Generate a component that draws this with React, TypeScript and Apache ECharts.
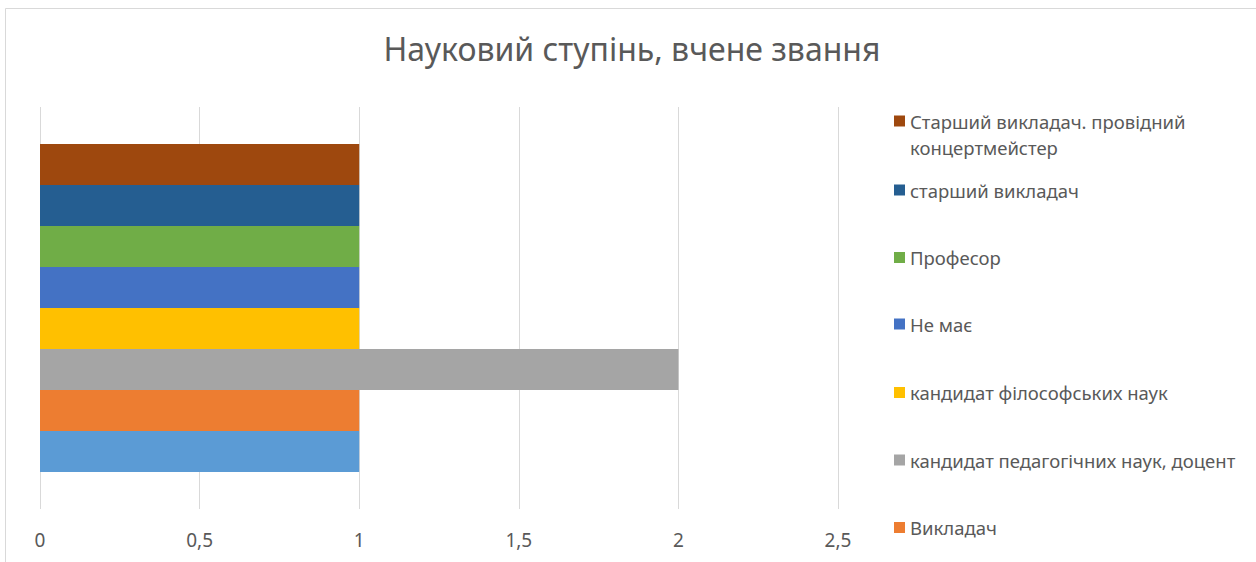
import React, { useEffect, useRef } from "react";
import * as echarts from "echarts";

const categories = [""];
// series in ECharts order: first = top bar
const seriesNames = [
  "Старший викладач. провідний концертмейстер",
  "старший викладач",
  "Професор",
  "Не має",
  "кандидат філософських наук",
  "кандидат педагогічних наук, доцент",
  "Викладач",
  "Інше",
];
const seriesValues = [1, 1, 1, 1, 1, 2, 1, 1];
const seriesColors = [
  "#9E480E",
  "#255E91",
  "#70AD47",
  "#4472C4",
  "#FFC000",
  "#A5A5A5",
  "#ED7D31",
  "#5B9BD5",
];
const xTicks = { min: 0, max: 2.5, interval: 0.5 };
const titleText = "Науковий ступінь, вчене звання";

// legend items shown (top to bottom) and their icon centres
const legendNames = seriesNames.slice(0, 7);
const legendCenters = [121, 190, 257.5, 324, 392.5, 460, 527.5];
const firstLegendLines = ["Старший викладач. провідний", "концертмейстер"];

const FONT = "'Noto Sans', sans-serif";
const TEXT = "#595959";
const LEGEND_FS = 18.5;

export default function App() {
  const ref = useRef<HTMLDivElement>(null);
  useEffect(() => {
    document.body.style.margin = "0";
    if (!ref.current) return;
    const chart = echarts.init(ref.current, undefined, { renderer: "svg" });
    const legends = legendNames.map((name, i) => ({
      orient: "vertical",
      left: 894,
      top: legendCenters[i] - 11,
      padding: 0,
      itemWidth: 11,
      itemHeight: 11,
      itemGap: 0,
      icon: "rect",
      data: [name],
      selectedMode: false,
      formatter: i === 0 ? () => firstLegendLines[0] : undefined,
      textStyle: {
        color: TEXT,
        fontFamily: FONT,
        fontSize: LEGEND_FS,
        lineHeight: 22,
      },
    }));
    chart.setOption({
      animation: false,
      textStyle: { fontFamily: FONT },
      title: {
        text: titleText,
        left: 632,
        textAlign: "center",
        top: 32,
        padding: 0,
        textStyle: {
          color: TEXT,
          fontFamily: FONT,
          fontSize: 32,
          fontWeight: "normal",
        },
      },
      graphic: [
        {
          type: "rect",
          shape: { x: 5.5, y: 8.5, width: 1400, height: 700 },
          style: { fill: "none", stroke: "#d9d9d9", lineWidth: 1 },
          silent: true,
        },
        {
          type: "text",
          x: 910,
          y: 147,
          style: {
            text: firstLegendLines[1],
            fill: TEXT,
            fontFamily: FONT,
            fontSize: LEGEND_FS,
            verticalAlign: "middle",
          },
          silent: true,
        },
      ],
      legend: legends,
      grid: { left: 40, right: 418, top: 107, bottom: 53, containLabel: false },
      xAxis: {
        type: "value",
        min: xTicks.min,
        max: xTicks.max,
        interval: xTicks.interval,
        axisLine: { show: false },
        axisTick: { show: false },
        splitLine: { show: true, lineStyle: { color: "#d9d9d9", width: 1 } },
        axisLabel: {
          color: TEXT,
          fontFamily: FONT,
          fontSize: 19,
          margin: 21,
          formatter: (v: number) => String(v).replace(".", ","),
        },
      },
      yAxis: {
        type: "category",
        data: categories,
        axisLine: { show: false },
        axisTick: { show: false },
        axisLabel: { show: false },
      },
      series: seriesNames.map((name, i) => ({
        type: "bar",
        name,
        data: [seriesValues[i]],
        itemStyle: { color: seriesColors[i] },
        barGap: "0%",
        barCategoryGap: "18.4%",
      })),
    });
    return () => chart.dispose();
  }, []);
  return <div ref={ref} style={{ width: 1256, height: 562 }} />;
}
